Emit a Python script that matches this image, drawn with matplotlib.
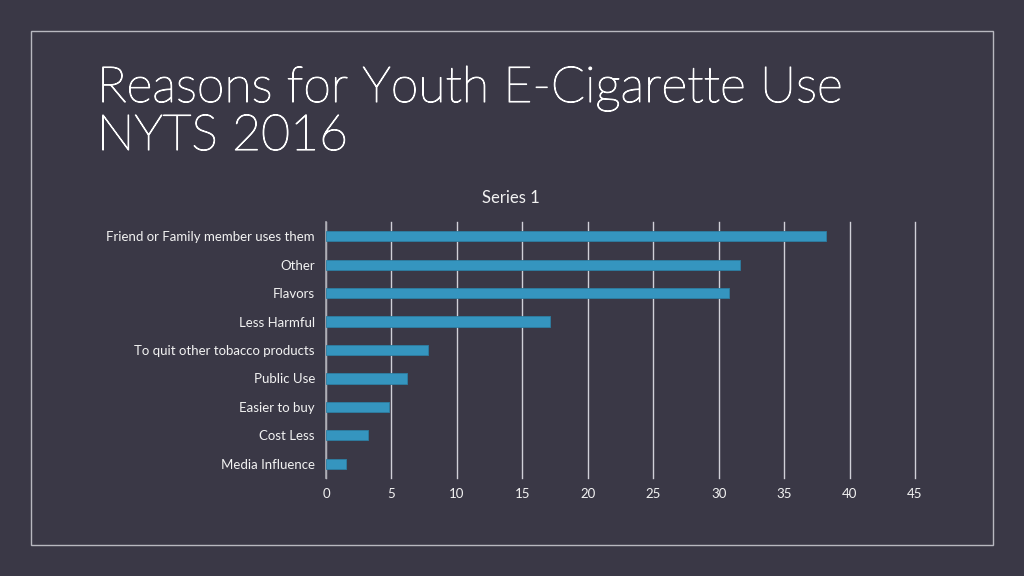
import matplotlib.pyplot as plt
import matplotlib.patches as mpatches
import matplotlib.patheffects as pe

BG = '#3a3846'
BAR = '#3595bf'
TXT = '#f2f2f2'
GRID = '#d0d0d8'

categories = ['Friend or Family member uses them', 'Other', 'Flavors', 'Less Harmful',
              'To quit other tobacco products', 'Public Use', 'Easier to buy',
              'Cost Less', 'Media Influence']
values = [38.2, 31.6, 30.8, 17.1, 7.8, 6.2, 4.8, 3.2, 1.5]
xticks = [0, 5, 10, 15, 20, 25, 30, 35, 40, 45]

plt.rcParams['font.family'] = ['Lato', 'DejaVu Sans']

fig = plt.figure(figsize=(10.24, 5.76), dpi=100)
fig.patch.set_facecolor(BG)

# slide frame
fig.add_artist(mpatches.Rectangle((31 / 1024, 1 - 545 / 576), (993 - 31) / 1024, (545 - 31) / 576,
                                  transform=fig.transFigure, fill=False,
                                  edgecolor='#b8b8c0', linewidth=1.0))

# title, two lines placed on their baselines (light weight, thickened a touch)
thicken = [pe.withStroke(linewidth=0.8, foreground='white')]
fig.text(97 / 1024, 1 - 102 / 576, 'Reasons for Youth E-Cigarette Use',
         fontsize=36, color='white', va='baseline', ha='left', fontweight='light',
         path_effects=thicken)
fig.text(97 / 1024, 1 - 150 / 576, 'NYTS 2016',
         fontsize=36, color='white', va='baseline', ha='left', fontweight='light',
         path_effects=thicken)

ax = fig.add_axes([326 / 1024, 1 - 478 / 576, (915 - 326) / 1024, (478 - 222) / 576])
ax.set_facecolor(BG)

pos = list(range(len(categories)))
ax.barh(pos, values, height=0.36, color=BAR, edgecolor='#2d7fa3', linewidth=0.6, zorder=3)
ax.set_ylim(len(categories) - 0.5, -0.5)
ax.set_yticks(pos)
ax.set_yticklabels(categories)
ax.set_xlim(0, 45)
ax.set_xticks(xticks)

ax.grid(axis='x', color=GRID, linewidth=1.0, zorder=0)
for gl in ax.get_xgridlines():
    gl.set_clip_on(False)
ax.grid(axis='y', visible=False)
for s in ['top', 'right', 'bottom']:
    ax.spines[s].set_visible(False)
ax.spines['left'].set_color('#a8a8b0')
ax.spines['left'].set_linewidth(1.2)

ax.tick_params(axis='both', length=0, colors=TXT, labelsize=9.5)
ax.tick_params(axis='y', pad=8)
ax.tick_params(axis='x', pad=7)

fig.text(511 / 1024, 1 - 198 / 576, 'Series 1', fontsize=12, color=TXT,
         ha='center', va='center')

fig.savefig('out.png', dpi=100, facecolor=BG)
